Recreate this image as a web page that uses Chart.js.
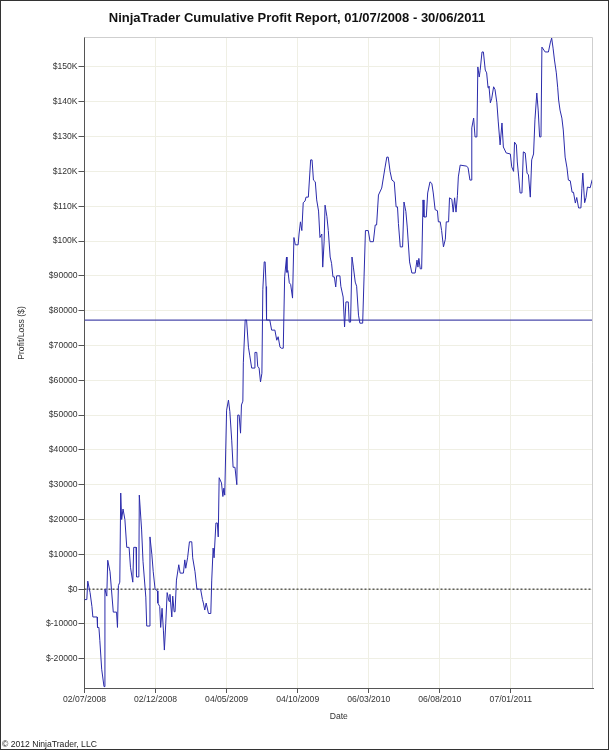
<!DOCTYPE html>
<html>
<head>
<meta charset="utf-8">
<script src="https://cdn.jsdelivr.net/npm/chart.js@4.4.1/dist/chart.umd.min.js"></script>
<style>
  html, body { margin: 0; padding: 0; background: #fff; }
  canvas { display: block; }
</style>
</head>
<body>
<canvas id="c" width="609" height="750"></canvas>
<script>
// ---- Data ----
const chartTitle = 'NinjaTrader Cumulative Profit Report, 01/07/2008 - 30/06/2011';
const yAxisTitle = 'Profit/Loss ($)';
const xAxisTitle = 'Date';
const copyrightText = '\u00A9 2012 NinjaTrader, LLC';

// x tick positions (days since 02/07/2008) and their labels
const xTickDays = [0, 153, 306, 459, 612, 765, 918];
const xTickLabels = ['02/07/2008', '02/12/2008', '04/05/2009', '04/10/2009', '06/03/2010', '06/08/2010', '07/01/2011'];

// y tick values and labels
const yTickValues = [-20000, -10000, 0, 10000, 20000, 30000, 40000, 50000, 60000, 70000, 80000, 90000, 100000, 110000, 120000, 130000, 140000, 150000];
const yTickLabels = ['$-20000', '$-10000', '$0', '$10000', '$20000', '$30000', '$40000', '$50000', '$60000', '$70000', '$80000', '$90000', '$100K', '$110K', '$120K', '$130K', '$140K', '$150K'];

// days since 02/07/2008
const days = [
  0,5,7,12,16,18,27,28,31,33,
  37,42,44,48,50,55,58,62,69,71,
  73,76,78,80,83,87,91,96,99,104,
  106,111,112,117,118,123,126,132,134,139,
  141,145,148,152,157,158,162,164,167,170,
  172,175,178,182,184,188,190,193,195,198,
  203,206,213,216,218,222,226,231,233,238,
  242,250,254,256,259,262,267,272,274,277,
  279,283,286,288,290,295,298,300,302,306,
  310,313,317,320,324,328,330,333,336,338,
  341,342,346,349,353,356,360,365,367,371,
  373,376,379,382,384,387,389,391,392,399,
  403,410,414,417,421,424,428,431,435,436,
  438,441,444,448,451,454,460,462,465,468,
  471,475,477,482,487,490,493,497,500,504,
  507,511,513,516,518,522,525,529,532,535,
  538,541,543,550,552,557,560,563,568,570,
  573,576,579,583,586,590,593,599,602,605,
  611,615,622,626,629,633,640,647,651,654,
  658,662,667,671,674,676,680,685,688,692,
  695,700,705,712,716,718,720,723,726,729,
  731,736,739,744,748,751,755,760,762,766,
  769,773,777,779,784,786,791,794,797,800,
  803,805,809,823,826,830,833,834,838,841,
  845,847,850,852,856,859,863,866,869,871,
  874,877,881,884,888,891,895,899,902,908,
  917,920,924,926,930,932,935,938,942,945,
  949,953,956,960,963,967,970,974,977,980,
  983,985,992,999,1003,1006,1009,1012,1016,1019,
  1021,1024,1028,1031,1035,1039,1042,1046,1050,1053,
  1057,1060,1064,1069,1071,1073,1077,1080,1083,1089,
  1093,1095
];

// cumulative profit ($)
const profit = [
  -3000,-3000,2300,-1000,-5000,-8000,-8000,-11000,-11000,-14700,
  -23000,-28000,0,-2000,8300,5000,0,-6600,-6600,-11000,
  1000,2000,27600,20000,23000,20000,12000,12000,6300,2000,
  12000,12000,3500,3500,27000,17000,8000,-2300,-10600,-10600,
  15000,10000,5000,0,-500,-4000,-5000,-11000,-5500,-12000,
  -17500,-9800,-1000,-3500,-1500,-8000,-2000,-6500,-6500,2600,
  7000,4600,4600,8400,6000,9000,13600,13600,9000,5000,
  0,0,-3000,-4000,-6000,-4000,-7000,-7000,2600,11800,
  9000,19000,19000,15000,32000,30500,26600,29000,27000,51400,
  54300,51000,42800,35000,35000,30000,50000,50000,44800,52900,
  54000,65000,77300,77300,69500,67000,63500,63500,68000,68000,
  64000,63500,59500,62000,86000,94000,94000,86900,77300,77300,
  74400,74400,71500,72500,69500,69200,69200,89700,95400,91000,
  91500,88000,87500,83600,101000,98900,98900,102000,105500,103000,
  111000,111500,112600,112600,123300,123300,117500,117000,111800,108600,
  101000,102000,92500,99800,110300,107000,103000,95400,93600,89700,
  89700,86800,90000,90000,87000,83900,75300,82500,82500,76700,
  76700,95400,92500,88200,87000,78700,76400,76400,89700,103000,
  103000,99800,99800,104600,104600,113200,115200,121000,124100,124100,
  120000,117500,117000,109800,109800,105000,98300,98300,111200,108500,
  104000,94000,90800,90800,94500,92500,95000,92000,92000,111800,
  106900,106900,113800,117000,116500,113800,109000,108700,105500,105500,
  103000,98300,100500,105500,105500,112400,112000,108300,112400,108300,
  113000,118400,121800,121500,121000,117500,117500,132500,135300,129900,
  129900,150000,147100,149000,154300,154300,149100,148300,144000,144500,
  139700,141000,144300,143500,139700,134200,127600,133900,127000,125300,
  125000,121300,120000,128400,127600,122700,118400,113800,113800,125600,
  125300,119500,119000,112600,123300,125000,134800,142500,137600,129900,
  129900,155700,154300,154300,156900,158300,155400,152000,148300,144000,
  140500,137600,135300,131900,124100,121000,117500,117300,114000,114000,
  110900,112500,109500,109500,115000,119500,111000,112500,115500,115300,
  117500,118000
];

const meanProfit = 77300;
const xMin = 0, xMax = 1095;
const yMin = -28400, yMax = 158600;

// ---- Chart ----
const FONT = "'Liberation Sans', Arial, Helvetica, sans-serif";
Chart.defaults.font.family = FONT;
Chart.defaults.font.size = 8.6;
Chart.defaults.color = '#333';

const seriesData = days.map((d, i) => ({ x: d, y: profit[i] }));

const decor = {
  id: 'decor',
  beforeDraw(chart) {
    const ctx = chart.ctx;
    ctx.save();
    ctx.fillStyle = '#fff';
    ctx.fillRect(0, 0, chart.width, chart.height);
    ctx.restore();
  },
  afterDraw(chart) {
    const ctx = chart.ctx;
    const a = chart.chartArea;
    ctx.save();
    // plot area top & right border
    ctx.strokeStyle = '#cfcfcf';
    ctx.lineWidth = 1;
    ctx.beginPath();
    ctx.moveTo(a.left, a.top + 0.5);
    ctx.lineTo(a.right - 0.5, a.top + 0.5);
    ctx.lineTo(a.right - 0.5, a.bottom);
    ctx.stroke();
    // title
    ctx.fillStyle = '#111';
    ctx.font = 'bold 13px ' + FONT;
    ctx.textAlign = 'center';
    ctx.textBaseline = 'alphabetic';
    ctx.fillText(chartTitle, 297, 22);
    // y axis title
    ctx.save();
    ctx.translate(22, 333);
    ctx.rotate(-Math.PI / 2);
    ctx.font = '8.6px ' + FONT;
    ctx.fillStyle = '#333';
    ctx.textAlign = 'center';
    ctx.textBaseline = 'middle';
    ctx.fillText(yAxisTitle, 0, 0);
    ctx.restore();
    // copyright
    ctx.font = '8.6px ' + FONT;
    ctx.fillStyle = '#222';
    ctx.textAlign = 'left';
    ctx.textBaseline = 'alphabetic';
    ctx.fillText(copyrightText, 2, 747);
    // outer frame
    ctx.strokeStyle = '#333';
    ctx.lineWidth = 1;
    ctx.strokeRect(0.5, 0.5, chart.width - 1, chart.height - 1);
    ctx.restore();
  }
};

new Chart(document.getElementById('c'), {
  type: 'line',
  data: {
    datasets: [
      {
        label: 'Cumulative Profit',
        data: seriesData,
        borderColor: '#2b2bab',
        borderWidth: 1,
        pointRadius: 0,
        tension: 0,
        fill: false,
        order: 0
      },
      {
        label: 'Mean',
        data: [{ x: xMin, y: meanProfit }, { x: xMax, y: meanProfit }],
        borderColor: '#4b4bab',
        borderWidth: 1.2,
        pointRadius: 0,
        fill: false,
        order: 1
      },
      {
        label: 'Zero',
        data: [{ x: xMin, y: 0 }, { x: xMax, y: 0 }],
        borderColor: '#111',
        borderWidth: 1,
        borderDash: [2, 2],
        pointRadius: 0,
        fill: false,
        order: 2
      }
    ]
  },
  options: {
    responsive: false,
    animation: false,
    devicePixelRatio: 1,
    layout: { padding: { top: 37, right: 16, bottom: 0, left: 0 } },
    plugins: {
      legend: { display: false },
      title: { display: false },
      tooltip: { enabled: false }
    },
    scales: {
      x: {
        type: 'linear',
        min: xMin,
        max: xMax,
        afterBuildTicks(s) { s.ticks = xTickDays.map(v => ({ value: v })); },
        afterFit(s) { s.height = 62; },
        border: { display: true, color: '#555', width: 1 },
        grid: { color: '#efefe4', lineWidth: 1, tickColor: '#555', tickLength: 5, drawTicks: true },
        ticks: {
          autoSkip: false,
          maxRotation: 0,
          minRotation: 0,
          padding: 1,
          color: '#333',
          callback: (v) => { const i = xTickDays.indexOf(v); return i >= 0 ? xTickLabels[i] : ''; }
        },
        title: { display: true, text: xAxisTitle, color: '#333', padding: { top: 0, bottom: 28 } }
      },
      y: {
        type: 'linear',
        min: yMin,
        max: yMax,
        afterBuildTicks(s) { s.ticks = yTickValues.map(v => ({ value: v })); },
        afterFit(s) { s.width = 84.5; },
        border: { display: true, color: '#555', width: 1 },
        grid: { color: '#efefe4', lineWidth: 1, tickColor: '#555', tickLength: 6, drawTicks: true },
        ticks: {
          autoSkip: false,
          padding: 1,
          color: '#333',
          callback: (v) => { const i = yTickValues.indexOf(v); return i >= 0 ? yTickLabels[i] : ''; }
        }
      }
    }
  },
  plugins: [decor]
});
</script>
</body>
</html>
